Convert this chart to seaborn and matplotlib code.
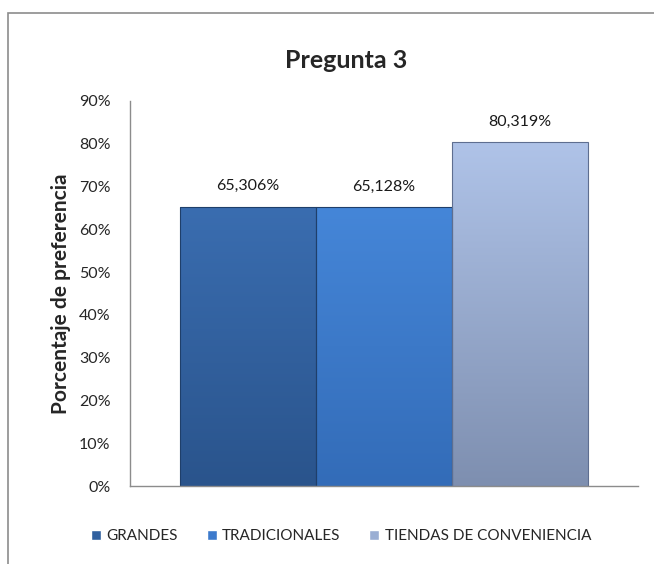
import numpy as np
import pandas as pd
import matplotlib
matplotlib.use("Agg")
import matplotlib.pyplot as plt
import seaborn as sns
from matplotlib.patches import Rectangle

# Data
categories = ["Pregunta 3"]
series = ["GRANDES", "TRADICIONALES", "TIENDAS DE CONVENIENCIA"]
values = [0.65306, 0.65128, 0.80319]
value_labels = ["65,306%", "65,128%", "80,319%"]
yticks = [0.0, 0.1, 0.2, 0.3, 0.4, 0.5, 0.6, 0.7, 0.8, 0.9]
ytick_labels = ["0%", "10%", "20%", "30%", "40%", "50%", "60%", "70%", "80%", "90%"]

colors = ["#30609F", "#3C7ACC", "#9AAED3"]
grad_top = ["#3A6DB0", "#4586D8", "#AFC3E8"]
grad_bot = ["#2A548C", "#336CB8", "#7E8FB0"]

sns.set_theme(style="white")
plt.rcParams['font.family'] = ['Lato', 'DejaVu Sans']

df = pd.DataFrame({"cat": categories * len(series), "serie": series, "valor": values})

fig = plt.figure(figsize=(6.54, 5.64), dpi=100)
ax = fig.add_axes([130/654, 1-486/564, (638-130)/654, (486-101)/564])

sns.barplot(data=df, x="cat", y="valor", hue="serie", palette=colors,
            width=0.803, ax=ax, legend=True, saturation=1)

ax.set_xlim(-0.5, 0.5)
ax.set_ylim(0, 0.9)
ax.set_yticks(yticks)
ax.set_yticklabels(ytick_labels, fontsize=11.5)
ax.tick_params(axis='y', length=0, pad=14)
ax.set_xticks([])
ax.set_xlabel("")
ax.set_ylabel("Porcentaje de preferencia", fontsize=15, fontweight="bold")
ax.yaxis.set_label_coords((71-130)/508, 0.5)
for s in ["top", "right"]:
    ax.spines[s].set_visible(False)
for s in ["left", "bottom"]:
    ax.spines[s].set_color("#8C8C8C")
    ax.spines[s].set_linewidth(1.0)

# Gradient fill on bars
bars = [p for p in ax.patches if p.get_height() > 0]
bars.sort(key=lambda p: p.get_x())
for i, p in enumerate(bars):
    x0, w, h = p.get_x(), p.get_width(), p.get_height()
    top = np.array(matplotlib.colors.to_rgb(grad_top[i]))
    bot = np.array(matplotlib.colors.to_rgb(grad_bot[i]))
    t = np.linspace(1, 0, 100)[:, None, None]
    img = bot + (top - bot) * t
    img = np.repeat(img, 2, axis=1)
    im = ax.imshow(img, extent=[x0, x0 + w, 0, h], aspect='auto', zorder=p.get_zorder() + 0.1,
                   origin='upper', interpolation='bilinear')
    im.set_clip_path(p)
    ax.add_patch(Rectangle((x0, 0), w, h, fill=False, edgecolor="#1F3F6A" if i < 2 else "#5E6E90",
                           linewidth=0.8, zorder=p.get_zorder() + 0.2))
    ax.annotate(value_labels[i], (x0 + w / 2, h), xytext=(0, 15), textcoords="offset points",
                ha="center", va="center", fontsize=11.5, color="#1a1a1a")
ax.set_xlim(-0.5, 0.5)
ax.set_ylim(0, 0.9)

# Legend
handles, labels = ax.get_legend_handles_labels()
ax.get_legend().remove()
fig.legend(handles, labels, loc="center", bbox_to_anchor=(341/654, 1-536/564), ncol=3,
           frameon=False, fontsize=11, handlelength=0.65, handleheight=0.65,
           handletextpad=0.35, columnspacing=1.9)

fig.text(346/654, 1-60/564, "Pregunta 3", ha="center", va="center", fontsize=18, fontweight="bold")

# Outer chart border
fig.patches.append(Rectangle((8/654, -0.1), 1.2, 1 - 13/564 + 0.1, transform=fig.transFigure,
                             fill=False, edgecolor="#8C8C8C", linewidth=1.2))

fig.savefig("out.png", dpi=100)
